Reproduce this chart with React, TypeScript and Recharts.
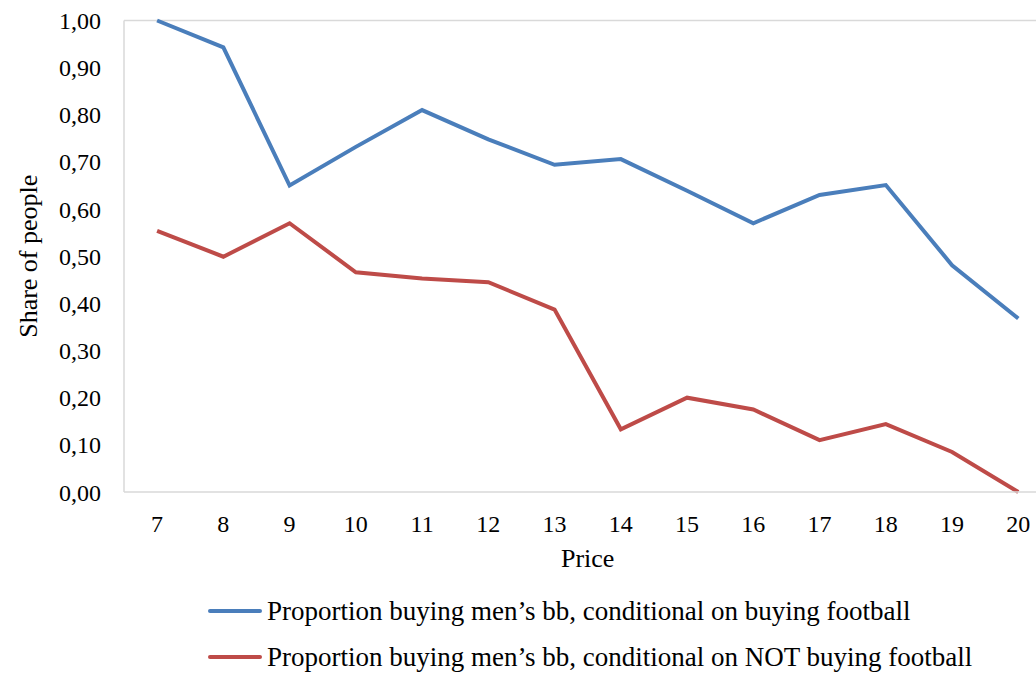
import { LineChart, Line, XAxis, YAxis, Legend, ReferenceLine } from 'recharts'

const prices = ['7', '8', '9', '10', '11', '12', '13', '14', '15', '16', '17', '18', '19', '20']
const buyingFootball = [1.0, 0.943, 0.65, 0.732, 0.81, 0.748, 0.694, 0.706, 0.639, 0.57, 0.63, 0.651, 0.481, 0.368]
const notBuyingFootball = [0.554, 0.499, 0.57, 0.466, 0.453, 0.445, 0.387, 0.133, 0.2, 0.175, 0.11, 0.144, 0.085, 0.0]
const yTicks = [0, 0.1, 0.2, 0.3, 0.4, 0.5, 0.6, 0.7, 0.8, 0.9, 1.0]

const seriesA = 'Proportion buying men’s bb, conditional on buying football'
const seriesB = 'Proportion buying men’s bb, conditional on NOT buying football'

const data = prices.map((p, i) => ({
  price: p,
  a: buyingFootball[i],
  b: notBuyingFootball[i],
}))

const FONT = "'Liberation Serif', 'Times New Roman', serif"
const BORDER = '#D9D9D9'

const renderLegend = (props: any) => {
  // keep series order (a first), recharts sorts by name otherwise
  const items = [...(props.payload || [])].sort((x: any, y: any) =>
    String(x.dataKey).localeCompare(String(y.dataKey))
  )
  return (
    <div style={{ fontFamily: FONT, fontSize: 27, color: '#000' }}>
      {items.map((entry: any) => (
        <div key={entry.value} style={{ display: 'flex', alignItems: 'center', height: 46 }}>
          <span
            style={{
              display: 'inline-block',
              width: 54,
              height: 4,
              borderRadius: 2,
              background: entry.color,
              marginRight: 5,
            }}
          />
          <span style={{ whiteSpace: 'nowrap' }}>{entry.value}</span>
        </div>
      ))}
    </div>
  )
}

export default function App() {
  return (
    <div style={{ position: 'absolute', left: 0, top: 0, width: 1036, height: 675, overflow: 'hidden', background: '#fff' }}>
      <LineChart
        width={1070}
        height={675}
        data={data}
        margin={{ top: 20.5, right: 18.6, bottom: 103, left: 0 }}
      >
        <XAxis
          dataKey="price"
          padding={{ left: 33.1, right: 33.1 }}
          height={80}
          tickLine={false}
          tickSize={0}
          tickMargin={23}
          axisLine={{ stroke: BORDER, strokeWidth: 1.5 }}
          tick={{ fill: '#000', fontSize: 24, fontFamily: FONT }}
          interval={0}
          label={{ value: 'Price', position: 'insideBottom', offset: 5, fill: '#000', fontSize: 26, fontFamily: FONT }}
        />
        <YAxis
          width={124}
          domain={[0, 1]}
          ticks={yTicks}
          interval={0}
          tickLine={false}
          tickSize={0}
          tickMargin={23}
          axisLine={{ stroke: BORDER, strokeWidth: 1.5 }}
          tick={{ fill: '#000', fontSize: 24, fontFamily: FONT }}
          tickFormatter={(v: number) => v.toFixed(2).replace('.', ',')}
          label={{
            value: 'Share of people',
            angle: -90,
            position: 'insideLeft',
            offset: 28,
            fill: '#000',
            fontSize: 26,
            fontFamily: FONT,
            style: { textAnchor: 'middle' },
          }}
        />
        <ReferenceLine y={1} stroke={BORDER} strokeWidth={1.5} ifOverflow="extendDomain" />
        <Legend
          layout="vertical"
          align="center"
          verticalAlign="middle"
          content={renderLegend}
          wrapperStyle={{ top: 588, left: 208, width: 820 }}
        />
        <Line
          type="linear"
          dataKey="a"
          name={seriesA}
          stroke="#4A7EBB"
          strokeWidth={4}
          dot={false}
          activeDot={false}
          isAnimationActive={false}
        />
        <Line
          type="linear"
          dataKey="b"
          name={seriesB}
          stroke="#BE4B48"
          strokeWidth={4}
          dot={false}
          activeDot={false}
          isAnimationActive={false}
        />
      </LineChart>
    </div>
  )
}
